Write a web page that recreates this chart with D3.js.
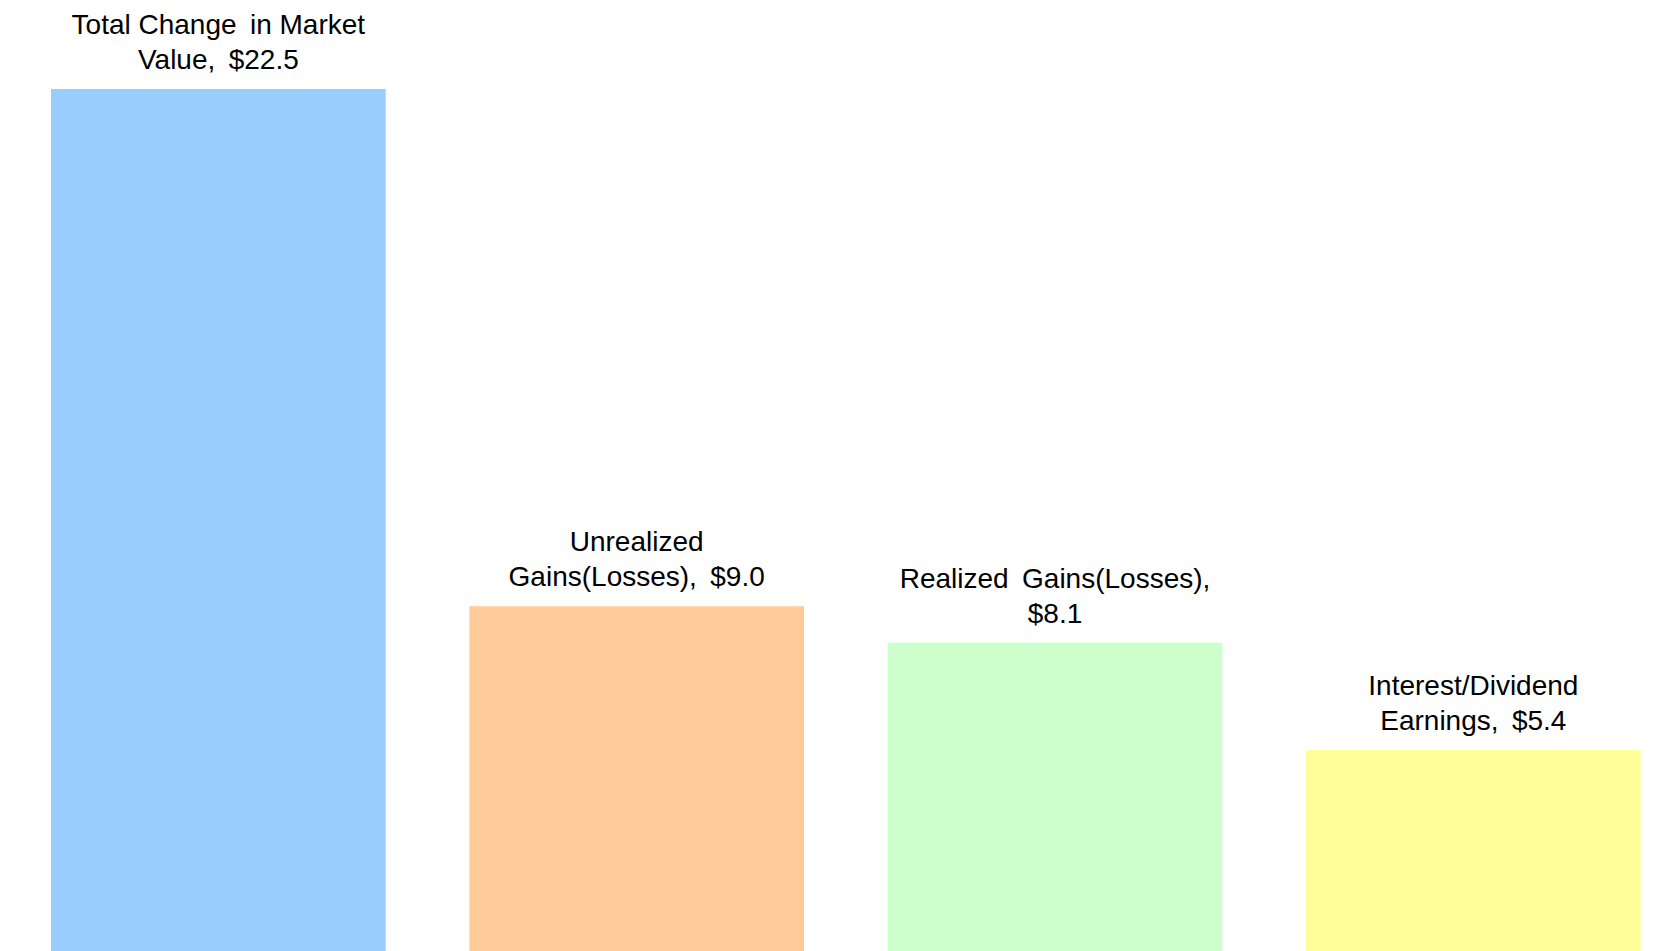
<!DOCTYPE html>
<html>
<head>
<meta charset="utf-8">
<script src="https://cdn.jsdelivr.net/npm/d3@7"></script>
<style>
  body { margin: 0; background: #fff; overflow: hidden; }
  svg { display: block; }
</style>
</head>
<body>
<svg id="chart"></svg>
<script>
// chart data
let categories = ["Total Change in Market Value", "Unrealized Gains(Losses)",
                  "Realized Gains(Losses)", "Interest/Dividend Earnings"];
let values = [22.5, 9.0, 8.05, 5.25];
// label lines as wrapped in the picture (the wider gaps are a thin space extra)
let labelLines = [
  ["Total Change \u2009in Market", "Value, \u2009$22.5"],
  ["Unrealized", "Gains(Losses), \u2009$9.0"],
  ["Realized \u2009Gains(Losses),", "$8.1"],
  ["Interest/Dividend", "Earnings, \u2009$5.4"]
];
let colors = ["#99ccff", "#ffcc99", "#ccffcc", "#ffff99"];

// set the dimensions and margins of the graph
let W = 1669, H = 951;
let margin = {top: 89, right: 0, bottom: 0, left: 0},
    height = H - margin.top - margin.bottom;

let svg = d3.select("#chart")
    .attr("width", W)
    .attr("height", H);

// set the ranges
let x = d3.scaleBand()
    .domain(categories)
    .range([9.2, 1682.5])
    .paddingInner(0.2)
    .paddingOuter(0.1);

let y = d3.scaleLinear()
    .domain([0, d3.max(values)])
    .range([margin.top + height, margin.top]);

let g = svg.append("g");

// bars
g.selectAll("rect")
    .data(categories)
  .enter().append("rect")
    .attr("x", function(d) { return x(d); })
    .attr("y", function(d, i) { return y(values[i]); })
    .attr("width", x.bandwidth())
    .attr("height", function(d, i) { return y(0) - y(values[i]); })
    .attr("fill", function(d, i) { return colors[i]; });

// data labels above each bar
let lineGap = 35;
let labels = g.selectAll("text.lbl")
    .data(categories)
  .enter().append("text")
    .attr("class", "lbl")
    .attr("text-anchor", "middle")
    .style("font-family", "'Liberation Sans', Arial, sans-serif")
    .style("font-size", "28px")
    .style("white-space", "pre")
    .attr("fill", "#000");

labels.each(function(d, i) {
  let lines = labelLines[i];
  let cx = x(d) + x.bandwidth() / 2;
  let base = y(values[i]) - 20 - (lines.length - 1) * lineGap;
  d3.select(this).selectAll("tspan")
      .data(lines)
    .enter().append("tspan")
      .attr("x", cx)
      .attr("y", function(l, j) { return base + j * lineGap; })
      .text(function(l) { return l; });
});
</script>
</body>
</html>
